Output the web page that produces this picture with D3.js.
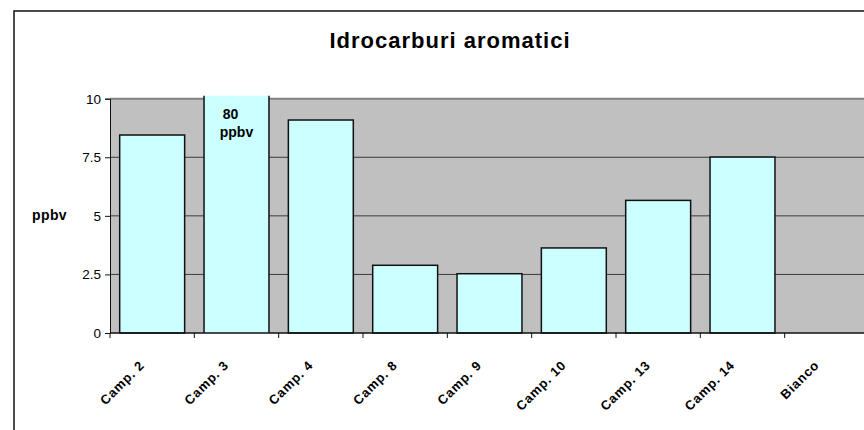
<!DOCTYPE html>
<html>
<head>
<meta charset="utf-8">
<script src="https://cdn.jsdelivr.net/npm/d3@7"></script>
<style>
  body { margin: 0; background: #fff; }
  svg { display: block; font-family: Arial, "Liberation Sans", sans-serif; }
</style>
</head>
<body>
<div id="chart"></div>
<script>
// data
const categories = ['Camp. 2', 'Camp. 3', 'Camp. 4', 'Camp. 8', 'Camp. 9', 'Camp. 10', 'Camp. 13', 'Camp. 14', 'Bianco'];
const values = [8.45, 80, 9.09, 2.89, 2.53, 3.63, 5.66, 7.51, 0];
const yTicks = [0, 2.5, 5, 7.5, 10];
const title = 'Idrocarburi aromatici';
const yLabel = 'ppbv';

const width = 864, height = 430;
const plotLeft = 110, plotRight = 869, plotTop = 98.7, plotBottom = 333;

const svg = d3.select('#chart').append('svg')
    .attr('width', width)
    .attr('height', height);

// chart frame (right / bottom edges fall outside the window)
svg.append('rect')
    .attr('x', 14).attr('y', 11)
    .attr('width', 900).attr('height', 500)
    .attr('fill', '#fff')
    .attr('stroke', '#111')
    .attr('stroke-width', 1.5);

svg.append('text')
    .attr('x', 450).attr('y', 48)
    .attr('text-anchor', 'middle')
    .attr('font-size', 22)
    .attr('letter-spacing', 1)
    .attr('font-weight', 'bold')
    .text(title);

const x = d3.scaleBand()
    .domain(categories)
    .range([plotLeft, plotRight])
    .paddingInner(0.23)
    .paddingOuter(0.115);

const y = d3.scaleLinear()
    .domain([0, 10])
    .range([plotBottom, plotTop]);

// plot area
svg.append('rect')
    .attr('x', plotLeft).attr('y', plotTop)
    .attr('width', plotRight - plotLeft).attr('height', plotBottom - plotTop)
    .attr('fill', '#c0c0c0');

svg.append('g')
    .selectAll('line')
    .data(yTicks.filter(d => d > 0 && d < 10))
    .join('line')
    .attr('x1', plotLeft).attr('x2', plotRight)
    .attr('y1', d => y(d)).attr('y2', d => y(d))
    .attr('stroke', '#3a3a3a')
    .attr('stroke-width', 1);

svg.append('line')
    .attr('x1', plotLeft).attr('x2', plotRight)
    .attr('y1', plotTop).attr('y2', plotTop)
    .attr('stroke', '#808080')
    .attr('stroke-width', 2);

// bars
const bars = svg.append('g');
values.forEach((v, i) => {
    if (v <= 0) return;
    const x0 = x(categories[i]);
    const x1 = x0 + x.bandwidth();
    if (v > 10) {
        // off-scale bar: clipped at the top, value written inside
        const yt = y(10) - 3;
        bars.append('rect')
            .attr('x', x0).attr('y', yt)
            .attr('width', x.bandwidth()).attr('height', plotBottom - yt)
            .attr('fill', '#ccffff');
        bars.append('path')
            .attr('d', `M${x0},${yt}V${plotBottom}M${x1},${yt}V${plotBottom}`)
            .attr('stroke', '#111')
            .attr('stroke-width', 1.5)
            .attr('fill', 'none');
        const cx = x0 + x.bandwidth() / 2;
        const lbl = bars.append('text')
            .attr('text-anchor', 'middle')
            .attr('font-size', 14)
            .attr('font-weight', 'bold');
        lbl.append('tspan').attr('x', cx - 6).attr('y', 119).text(Math.round(v));
        lbl.append('tspan').attr('x', cx).attr('y', 137).text('ppbv');
    } else {
        bars.append('rect')
            .attr('x', x0).attr('y', y(v))
            .attr('width', x.bandwidth()).attr('height', plotBottom - y(v))
            .attr('fill', '#ccffff')
            .attr('stroke', '#111')
            .attr('stroke-width', 1.5);
    }
});

// y axis
const yAxis = svg.append('g')
    .attr('transform', `translate(${plotLeft},0)`)
    .call(d3.axisLeft(y).tickValues(yTicks).tickSize(5).tickPadding(4)
        .tickFormat(d => String(d)));
yAxis.select('.domain').attr('stroke', '#111').attr('stroke-width', 1);
yAxis.selectAll('.tick line').attr('stroke', '#111');
yAxis.selectAll('text').attr('font-size', 13.5).attr('font-family', 'Arial, "Liberation Sans", sans-serif').attr('fill', '#000');

// x axis
const xAxis = svg.append('g')
    .attr('transform', `translate(0,${plotBottom})`);
xAxis.append('line')
    .attr('x1', plotLeft).attr('x2', plotRight)
    .attr('stroke', '#111').attr('stroke-width', 1.5);
const bounds = categories.map(c => x(c) - x.step() * x.paddingInner() / 2);
xAxis.selectAll('.tk')
    .data(bounds)
    .join('line')
    .attr('class', 'tk')
    .attr('x1', d => d).attr('x2', d => d)
    .attr('y1', 0).attr('y2', 5)
    .attr('stroke', '#111');
xAxis.selectAll('.lbl')
    .data(categories)
    .join('text')
    .attr('class', 'lbl')
    .attr('text-anchor', 'end')
    .attr('font-size', 13)
    .attr('letter-spacing', 0.8)
    .attr('font-weight', 'bold')
    .attr('transform', d => `translate(${x(d) + x.bandwidth() / 2 - 7},${33}) rotate(-45)`)
    .text(d => d);

svg.append('text')
    .attr('x', 32).attr('y', 220)
    .attr('font-size', 14)
    .attr('letter-spacing', 0.4)
    .attr('font-weight', 'bold')
    .text(yLabel);
</script>
</body>
</html>
